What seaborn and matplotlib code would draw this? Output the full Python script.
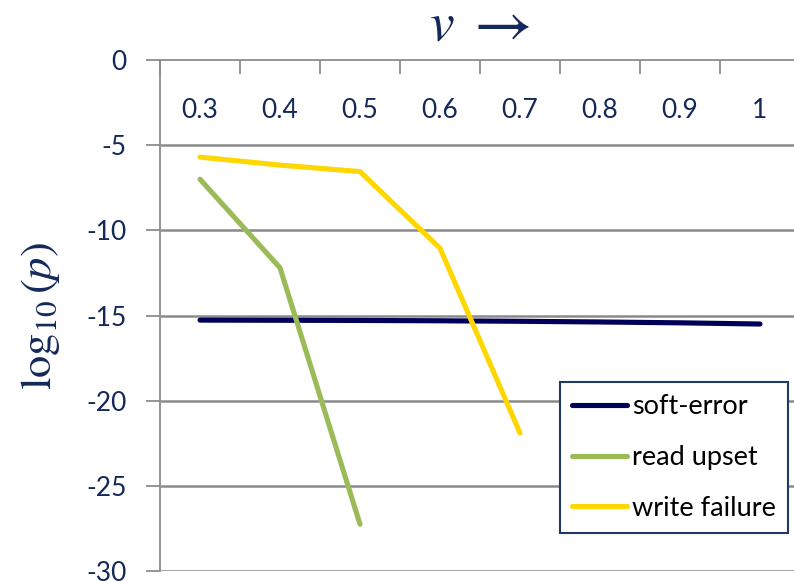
import matplotlib
matplotlib.use('Agg')
import matplotlib.pyplot as plt
import numpy as np
import pandas as pd
import seaborn as sns
from matplotlib.ticker import FixedLocator, FixedFormatter, NullFormatter

# ---- data ----
voltages = ['0.3', '0.4', '0.5', '0.6', '0.7', '0.8', '0.9', '1']
soft_error = [-15.27, -15.28, -15.29, -15.31, -15.34, -15.38, -15.43, -15.50]
read_upset = [-7.0, -12.2, -27.25]
write_failure = [-5.7, -6.17, -6.55, -11.05, -21.9]
series_names = ['soft-error', 'read upset', 'write failure']
series_colors = ['#000058', '#9BBB59', '#FFD700']
y_ticks = [-30, -25, -20, -15, -10, -5, 0]
y_tick_labels = ['-30', '-25', '-20', '-15', '-10', '-5', '0']

rows = []
for name, vals in zip(series_names, [soft_error, read_upset, write_failure]):
    for i, v in enumerate(vals):
        rows.append({'pos': i, 'logp': v, 'series': name})
df = pd.DataFrame(rows)

sns.set_style('white')
plt.rcParams['font.family'] = ['Lato', 'DejaVu Sans']
plt.rcParams['mathtext.fontset'] = 'stix'

navy = '#14285A'
grey = '#8C8C8C'

fig = plt.figure(figsize=(7.94, 5.81), dpi=100)
ax = fig.add_axes([160 / 794, 10 / 581, 640 / 794, 511 / 581])

# horizontal gridlines at the y ticks (drawn first, under the data)
ax.hlines(y_ticks[:-1], xmin=-0.5, xmax=len(voltages) - 0.5, colors='#8A8A8A',
          linewidth=1.8, zorder=2)

sns.lineplot(data=df, x='pos', y='logp', hue='series', hue_order=series_names,
             palette=dict(zip(series_names, series_colors)), linewidth=3.7,
             errorbar=None, sort=False, ax=ax, solid_capstyle='round',
             solid_joinstyle='round', zorder=11)

ax.set_xlim(-0.5, len(voltages) - 0.5)
ax.set_ylim(-30, 0)

# x axis placed at y = 0 (top)
ax.spines['bottom'].set_position(('data', 0))
ax.xaxis.set_major_locator(FixedLocator(list(range(len(voltages)))))
ax.xaxis.set_major_formatter(FixedFormatter(voltages))
ax.xaxis.set_minor_locator(FixedLocator([i - 0.5 for i in range(len(voltages) + 1)]))
ax.xaxis.set_minor_formatter(NullFormatter())
ax.tick_params(axis='x', which='major', length=0, labelsize=19, labelcolor=navy, pad=27, bottom=True)
ax.tick_params(axis='x', which='minor', direction='out', length=10, width=1.3, color=grey, bottom=True)

# y axis
ax.yaxis.set_major_locator(FixedLocator(y_ticks))
ax.yaxis.set_major_formatter(FixedFormatter(y_tick_labels))
ax.tick_params(axis='y', which='major', direction='out', length=10, width=1.3,
               color=grey, labelsize=19, labelcolor=navy, pad=14, left=True)

for s in ['top', 'right']:
    ax.spines[s].set_visible(False)
for s in ['left', 'bottom']:
    ax.spines[s].set_color(grey)
    ax.spines[s].set_linewidth(1.3)

ax.set_xlabel('')
ax.set_ylabel('')

fig.text(442 / 794, 1 - 25 / 581, r'$v$', ha='center', va='center',
         fontsize=40, color=navy)
fig.text(497 / 794, 1 - 24 / 581, r'$\rightarrow$', ha='center', va='center',
         fontsize=46, color=navy)
fig.text(40 / 794, 1 - 316 / 581, r'$\log_{10}(p)$', ha='center', va='center',
         rotation=90, fontsize=32, color=navy)

leg = ax.legend(loc='upper left', bbox_to_anchor=(560 / 794, 1 - 382 / 581),
                bbox_transform=fig.transFigure, borderaxespad=0, fancybox=False,
                frameon=True, fontsize=19.5, handlelength=2.0, handletextpad=0.2,
                labelspacing=0.95, borderpad=0.46, title=None)
leg.get_frame().set_edgecolor('#1F3864')
leg.get_frame().set_linewidth(1.5)
leg.get_frame().set_alpha(1)
leg.set_zorder(12)
for t in leg.get_texts():
    t.set_color('black')

fig.savefig('out.png', dpi=100)
